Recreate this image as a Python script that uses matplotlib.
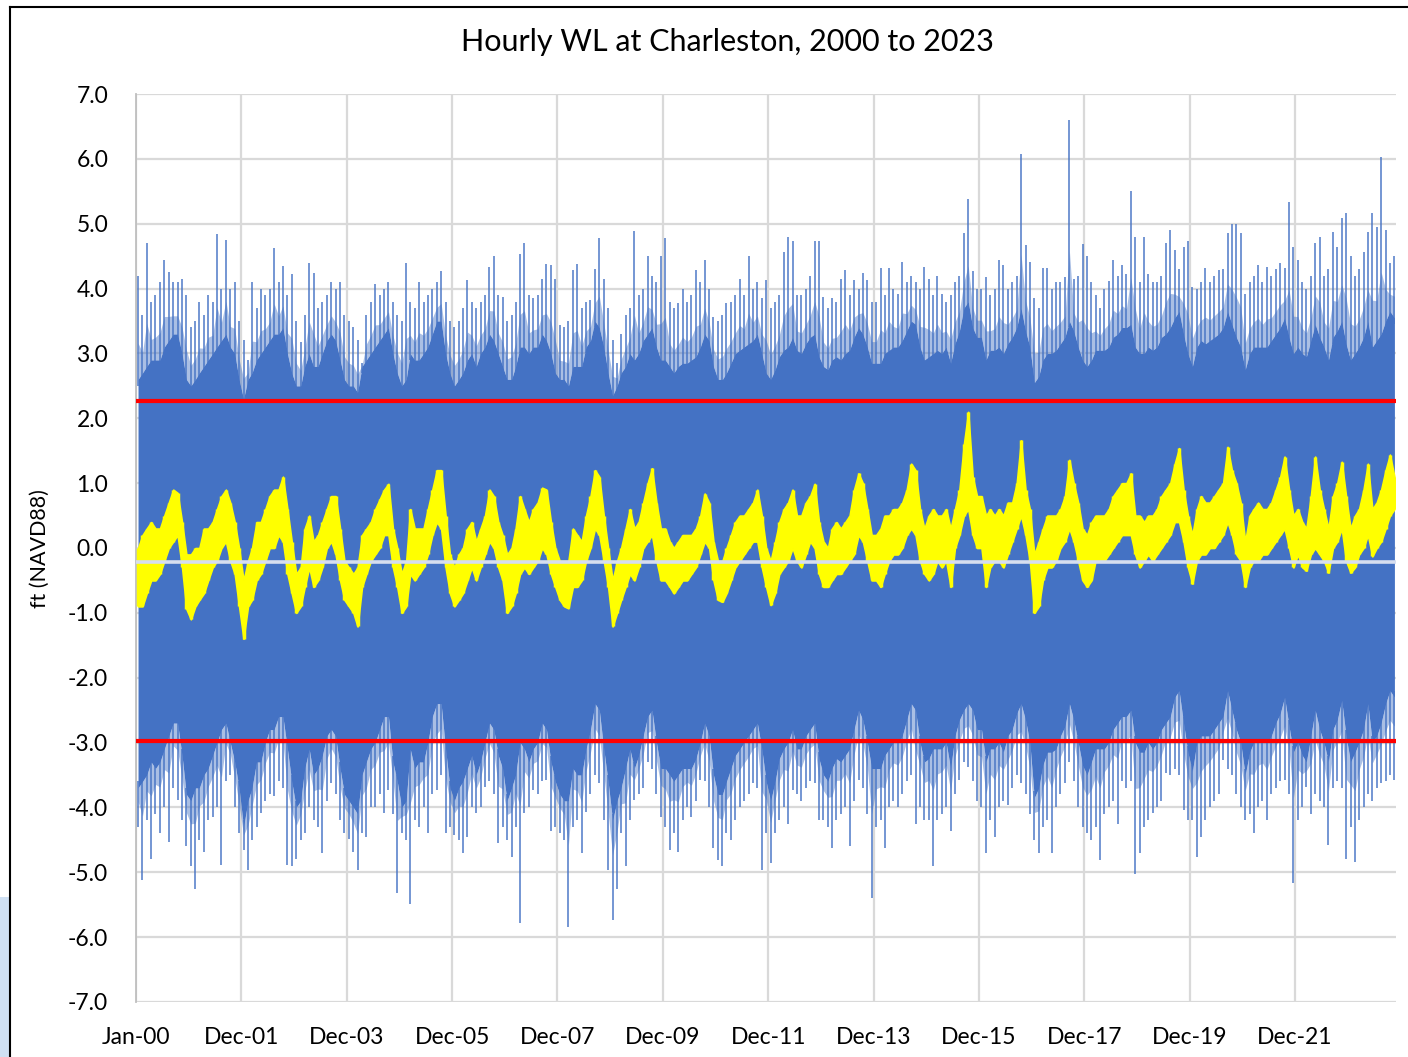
import numpy as np
import pandas as pd
import matplotlib
matplotlib.use("Agg")
import matplotlib.pyplot as plt
import matplotlib.dates as mdates
from matplotlib.lines import Line2D
from matplotlib.patches import Rectangle

# ---------------- data (monthly Jan-2000 .. Nov-2023) ----------------
start_month = "2000-01-01"
n_months = 287

# monthly highest hourly water level (ft NAVD88)
hi_max = [
    4.2, 3.6, 4.7, 3.8, 3.9, 4.1, 4.44, 4.26, 4.1, 4.1, 4.15, 3.9,
    3.4, 3.5, 3.8, 3.6, 3.9, 3.8, 4.84, 4.0, 4.75, 4.0, 4.1, 3.5,
    3.2, 2.9, 4.1, 3.7, 4.0, 3.9, 4.0, 4.63, 4.1, 4.35, 3.9, 4.23,
    3.5, 3.18, 3.6, 4.4, 4.24, 3.7, 3.8, 3.9, 4.1, 4.0, 4.1, 3.6,
    3.5, 3.4, 3.2, 2.85, 3.6, 3.8, 4.07, 3.9, 4.0, 4.1, 3.8, 3.6,
    3.5, 4.4, 3.8, 3.7, 4.1, 3.8, 3.9, 4.0, 4.1, 4.27, 3.8, 3.5,
    3.4, 3.5, 3.7, 4.13, 3.8, 3.7, 3.8, 3.9, 4.33, 4.5, 3.9, 3.87,
    3.5, 3.6, 3.8, 4.53, 4.7, 3.9, 3.85, 3.9, 4.14, 4.38, 4.37, 4.14,
    3.44, 3.4, 3.5, 4.28, 4.38, 3.7, 3.8, 3.82, 4.3, 4.78, 4.15, 3.7,
    3.2, 2.85, 3.3, 3.6, 3.7, 4.88, 3.9, 4.0, 4.5, 4.2, 4.1, 4.5,
    4.78, 3.8, 3.7, 3.77, 4.0, 3.8, 3.9, 4.29, 4.1, 4.44, 4.0, 3.56,
    3.5, 3.6, 3.78, 3.8, 3.9, 4.14, 3.9, 4.5, 4.0, 4.1, 3.85, 4.13,
    3.7, 3.8, 3.9, 4.56, 4.8, 4.74, 3.9, 3.9, 4.0, 4.2, 4.74, 4.73,
    3.87, 3.7, 3.85, 3.8, 4.15, 4.28, 3.9, 4.13, 4.0, 4.24, 4.13, 3.8,
    3.8, 4.32, 3.9, 4.32, 4.0, 3.92, 4.41, 4.1, 4.2, 4.1, 4.0, 4.34,
    4.15, 3.9, 4.2, 3.92, 3.8, 3.9, 4.1, 4.2, 4.86, 5.38, 4.27, 4.0,
    4.0, 4.18, 3.9, 4.0, 4.44, 4.36, 4.0, 4.1, 4.19, 6.07, 4.67, 4.41,
    3.85, 3.7, 4.31, 4.32, 4.0, 4.1, 4.1, 4.18, 6.6, 4.14, 4.2, 4.68,
    4.5, 4.1, 3.9, 3.7, 4.0, 4.11, 4.44, 4.2, 4.36, 4.23, 5.51, 4.8,
    4.1, 4.8, 4.23, 4.1, 4.1, 4.2, 4.7, 4.9, 4.59, 4.3, 4.64, 4.74,
    4.03, 4.0, 4.1, 4.32, 4.1, 4.2, 4.28, 4.3, 4.85, 5.0, 5.0, 4.86,
    3.92, 4.1, 4.2, 4.37, 4.1, 4.33, 4.2, 4.3, 4.4, 4.31, 5.33, 4.64,
    4.44, 4.1, 4.0, 4.19, 4.7, 4.8, 4.2, 4.3, 4.87, 4.64, 5.09, 5.17,
    4.5, 4.2, 4.3, 4.56, 4.87, 5.16, 4.95, 6.03, 4.9, 4.4, 4.5,
]

# monthly typical upper level of the dense tidal band
hi_body = [
    2.6, 2.7, 2.8, 2.9, 2.9, 2.9, 3.1, 3.2, 3.3, 3.3, 3.0, 2.6,
    2.5, 2.6, 2.7, 2.8, 2.9, 3.0, 3.1, 3.2, 3.3, 3.1, 3.0, 2.6,
    2.3, 2.6, 2.7, 2.9, 3.0, 3.1, 3.2, 3.3, 3.3, 3.4, 3.0, 2.7,
    2.5, 2.5, 2.8, 3.0, 2.8, 2.8, 3.0, 3.2, 3.3, 3.2, 2.9, 2.6,
    2.5, 2.5, 2.4, 2.8, 2.9, 3.0, 3.1, 3.2, 3.3, 3.4, 3.0, 2.7,
    2.5, 2.6, 3.0, 2.9, 2.9, 3.0, 3.1, 3.3, 3.5, 3.5, 3.0, 2.7,
    2.5, 2.6, 2.7, 2.9, 3.0, 2.8, 3.0, 3.1, 3.3, 3.2, 3.0, 2.8,
    2.6, 2.6, 2.8, 3.1, 3.1, 3.0, 3.1, 3.1, 3.3, 3.2, 3.0, 2.7,
    2.6, 2.6, 2.5, 2.8, 2.8, 2.8, 3.1, 3.2, 3.5, 3.4, 3.1, 2.7,
    2.35, 2.5, 2.7, 2.8, 3.0, 2.9, 3.0, 3.2, 3.3, 3.4, 3.1, 2.9,
    2.9, 2.8, 2.7, 2.8, 2.85, 2.85, 2.9, 2.95, 3.1, 3.3, 3.2, 2.8,
    2.6, 2.6, 2.7, 2.85, 3.0, 3.05, 3.1, 3.15, 3.2, 3.3, 3.0, 2.7,
    2.6, 2.75, 2.95, 3.05, 3.1, 3.25, 3.05, 3.0, 3.15, 3.25, 3.3, 2.95,
    2.8, 2.75, 2.9, 2.95, 2.9, 3.0, 3.05, 3.25, 3.4, 3.3, 3.1, 2.85,
    2.85, 2.85, 3.0, 3.05, 3.1, 3.1, 3.2, 3.35, 3.5, 3.45, 3.1, 2.9,
    2.95, 3.0, 3.05, 3.0, 3.1, 2.85, 3.15, 3.35, 3.7, 3.8, 3.4, 3.25,
    3.25, 2.9, 3.05, 3.05, 3.1, 3.0, 3.15, 3.25, 3.4, 3.7, 3.35, 3.1,
    2.55, 2.65, 2.9, 3.0, 3.0, 3.05, 3.15, 3.25, 3.5, 3.35, 3.1, 2.9,
    2.8, 2.9, 3.05, 3.05, 3.05, 3.1, 3.25, 3.3, 3.4, 3.4, 3.45, 3.1,
    3.0, 3.0, 3.1, 3.05, 3.1, 3.25, 3.3, 3.4, 3.55, 3.65, 3.3, 3.0,
    2.8, 3.1, 3.2, 3.15, 3.2, 3.25, 3.3, 3.4, 3.65, 3.45, 3.25, 3.1,
    2.75, 3.0, 3.1, 3.1, 3.1, 3.1, 3.2, 3.3, 3.4, 3.55, 3.25, 3.0,
    3.1, 3.0, 2.95, 3.2, 3.45, 3.25, 3.1, 2.9, 3.25, 3.35, 3.5, 3.15,
    2.9, 3.0, 3.1, 3.25, 3.5, 3.1, 3.2, 3.3, 3.5, 3.65, 3.55,
]

# monthly typical lower level of the dense tidal band
lo_body = [
    -3.7, -3.6, -3.5, -3.3, -3.4, -3.3, -3.1, -2.9, -2.7, -2.7, -3.2, -3.8,
    -3.9, -3.7, -3.7, -3.5, -3.4, -3.2, -3.0, -2.8, -2.7, -3.0, -3.3, -3.7,
    -4.3, -3.9, -3.7, -3.3, -3.3, -3.0, -2.8, -2.8, -2.6, -2.6, -3.1, -3.6,
    -4.0, -3.9, -3.4, -3.1, -3.5, -3.4, -3.2, -2.9, -2.8, -2.9, -3.4, -3.8,
    -3.9, -4.0, -4.1, -3.5, -3.3, -3.1, -3.0, -2.8, -2.6, -2.6, -3.3, -3.6,
    -4.0, -3.9, -3.1, -3.4, -3.3, -3.3, -3.0, -2.6, -2.4, -2.4, -3.1, -3.7,
    -3.9, -3.7, -3.6, -3.4, -3.2, -3.5, -3.3, -3.0, -2.7, -2.8, -3.2, -3.4,
    -3.9, -3.7, -3.5, -3.0, -3.1, -3.3, -3.1, -3.0, -2.7, -2.8, -3.3, -3.6,
    -3.8, -3.9, -3.9, -3.4, -3.5, -3.5, -3.1, -2.8, -2.4, -2.5, -3.1, -3.6,
    -4.2, -3.9, -3.7, -3.4, -3.1, -3.4, -3.2, -2.9, -2.6, -2.5, -3.0, -3.4,
    -3.4, -3.5, -3.6, -3.5, -3.4, -3.4, -3.4, -3.25, -3.0, -2.7, -2.9, -3.5,
    -3.8, -3.8, -3.6, -3.4, -3.2, -3.1, -3.0, -2.9, -2.8, -2.7, -3.1, -3.6,
    -3.9, -3.6, -3.25, -3.1, -3.0, -2.8, -3.1, -3.1, -2.9, -2.8, -2.7, -3.25,
    -3.5, -3.6, -3.4, -3.25, -3.3, -3.2, -3.1, -2.8, -2.5, -2.65, -3.0, -3.4,
    -3.4, -3.4, -3.2, -3.1, -3.0, -3.0, -2.9, -2.65, -2.4, -2.5, -3.0, -3.3,
    -3.25, -3.1, -3.1, -3.1, -3.0, -3.4, -2.9, -2.65, -2.5, -2.4, -2.5, -2.8,
    -2.8, -3.3, -3.1, -3.1, -3.0, -3.15, -2.9, -2.8, -2.55, -2.4, -2.65, -3.0,
    -3.85, -3.7, -3.35, -3.15, -3.15, -3.1, -2.9, -2.75, -2.4, -2.65, -3.0, -3.35,
    -3.5, -3.3, -3.1, -3.1, -3.1, -3.0, -2.8, -2.7, -2.6, -2.6, -2.5, -3.0,
    -3.15, -3.15, -3.0, -3.1, -3.0, -2.8, -2.7, -2.6, -2.3, -2.2, -2.7, -3.15,
    -3.45, -3.0, -2.9, -2.9, -2.9, -2.8, -2.7, -2.6, -2.2, -2.5, -2.8, -3.0,
    -3.5, -3.15, -3.0, -3.0, -3.0, -3.0, -2.9, -2.7, -2.55, -2.3, -2.75, -3.15,
    -3.0, -3.2, -3.3, -2.9, -2.5, -2.8, -3.0, -3.3, -2.8, -2.65, -2.35, -2.9,
    -3.3, -3.15, -3.0, -2.8, -2.4, -3.0, -2.9, -2.7, -2.4, -2.2, -2.3,
]

# monthly lowest hourly water level
lo_min = [
    -4.3, -5.12, -4.2, -4.79, -4.1, -4.4, -4.0, -4.53, -3.7, -3.89, -4.2, -4.6,
    -4.91, -5.25, -4.5, -4.68, -4.2, -4.14, -4.0, -4.89, -3.6, -3.5, -4.0, -4.4,
    -4.66, -4.97, -4.5, -4.3, -4.09, -3.9, -3.8, -3.83, -3.6, -3.7, -4.89, -4.91,
    -4.79, -4.5, -4.4, -4.0, -4.2, -4.3, -4.71, -3.9, -3.63, -3.8, -4.2, -4.4,
    -4.48, -4.68, -4.97, -4.4, -4.45, -4.0, -3.99, -3.8, -4.09, -3.73, -4.1, -5.32,
    -4.4, -4.5, -5.49, -4.2, -4.3, -4.0, -4.4, -3.8, -3.73, -3.5, -4.4, -4.3,
    -4.43, -4.5, -4.71, -4.45, -4.0, -4.09, -4.0, -3.68, -3.6, -3.8, -4.55, -4.3,
    -4.5, -4.76, -4.3, -5.78, -4.09, -4.0, -3.73, -3.8, -3.6, -3.58, -4.37, -4.3,
    -4.4, -4.5, -5.85, -4.3, -4.2, -4.71, -4.07, -3.8, -3.5, -3.63, -4.2, -4.97,
    -5.73, -5.25, -4.4, -4.91, -4.2, -3.89, -3.8, -3.7, -3.3, -3.4, -3.8, -4.14,
    -4.3, -4.66, -4.4, -4.68, -4.2, -4.0, -4.14, -3.9, -3.58, -3.6, -4.0, -4.63,
    -4.81, -4.91, -4.4, -4.5, -4.2, -4.0, -3.9, -3.8, -3.63, -3.7, -4.97, -4.4,
    -4.86, -4.4, -4.2, -4.0, -4.25, -3.73, -3.8, -3.9, -3.7, -3.6, -3.63, -4.2,
    -4.19, -4.3, -4.63, -4.2, -4.1, -4.0, -4.6, -3.9, -3.58, -3.7, -4.1, -5.4,
    -4.3, -4.2, -4.63, -4.0, -3.9, -3.99, -3.8, -3.6, -3.5, -4.25, -4.0, -4.2,
    -4.2, -4.91, -4.2, -4.1, -4.0, -4.37, -3.8, -3.58, -3.3, -3.37, -3.6, -3.9,
    -4.0, -4.71, -4.2, -4.45, -4.0, -3.9, -3.96, -3.7, -3.5, -3.63, -3.8, -4.1,
    -4.5, -4.71, -4.3, -4.2, -4.71, -4.0, -3.8, -3.63, -3.3, -3.6, -4.0, -4.3,
    -4.4, -4.5, -4.3, -4.81, -4.1, -4.0, -3.9, -4.25, -3.6, -3.7, -3.6, -5.02,
    -4.71, -4.3, -4.2, -4.09, -4.0, -3.9, -3.47, -3.5, -3.4, -3.5, -4.04, -4.2,
    -4.19, -4.76, -4.45, -4.2, -4.0, -3.9, -3.8, -3.27, -3.4, -3.5, -3.8, -3.99,
    -4.2, -4.1, -4.4, -4.0, -3.9, -4.19, -3.8, -3.7, -3.6, -3.58, -3.8, -5.17,
    -4.2, -4.0, -3.68, -4.1, -3.8, -3.9, -4.0, -4.58, -3.7, -3.6, -3.7, -4.79,
    -4.3, -4.84, -4.2, -4.0, -3.8, -3.9, -3.7, -3.63, -3.6, -3.5, -3.58,
]

# yellow series: monthly low / high of the daily mean water level
mean_lo = [
    -0.9, -0.9, -0.7, -0.5, -0.5, -0.4, -0.2, 0.0, 0.1, 0.2, -0.3, -0.94,
    -1.1, -0.9, -0.8, -0.7, -0.5, -0.3, -0.2, 0.0, 0.1, -0.2, -0.4, -0.9,
    -1.4, -0.9, -0.8, -0.5, -0.4, -0.2, 0.0, 0.0, 0.2, 0.1, -0.4, -0.7,
    -1.0, -0.9, -0.6, -0.3, -0.6, -0.5, -0.3, 0.0, 0.1, -0.1, -0.5, -0.8,
    -0.9, -1.0, -1.21, -0.6, -0.4, -0.2, -0.1, 0.0, 0.2, 0.2, -0.3, -0.6,
    -1.0, -0.9, -0.4, -0.5, -0.4, -0.3, -0.1, 0.2, 0.4, 0.3, -0.3, -0.7,
    -0.9, -0.8, -0.7, -0.5, -0.3, -0.5, -0.3, -0.1, 0.1, 0.0, -0.3, -0.5,
    -1.0, -0.9, -0.7, -0.4, -0.3, -0.4, -0.3, -0.2, 0.0, -0.1, -0.4, -0.6,
    -0.8, -0.9, -0.93, -0.6, -0.6, -0.5, -0.2, 0.0, 0.3, 0.2, -0.2, -0.6,
    -1.21, -1.0, -0.8, -0.6, -0.4, -0.5, -0.3, 0.0, 0.1, 0.2, -0.2, -0.5,
    -0.5, -0.6, -0.7, -0.6, -0.5, -0.5, -0.4, -0.3, -0.1, 0.1, 0.0, -0.5,
    -0.8, -0.83, -0.7, -0.5, -0.3, -0.2, -0.1, 0.0, 0.1, 0.1, -0.3, -0.6,
    -0.88, -0.7, -0.4, -0.3, -0.2, 0.0, -0.2, -0.3, -0.1, 0.1, 0.0, -0.4,
    -0.6, -0.6, -0.5, -0.4, -0.4, -0.3, -0.2, -0.1, 0.2, 0.1, -0.2, -0.5,
    -0.5, -0.6, -0.4, -0.2, -0.1, -0.1, 0.0, 0.2, 0.3, 0.2, -0.2, -0.4,
    -0.5, -0.4, -0.2, -0.3, -0.2, -0.6, 0.0, 0.2, 0.5, 0.6, 0.2, 0.0,
    0.0, -0.6, -0.3, -0.2, -0.2, -0.3, -0.1, 0.1, 0.3, 0.5, 0.2, -0.2,
    -1.0, -0.9, -0.5, -0.3, -0.3, -0.2, 0.0, 0.1, 0.3, 0.1, -0.2, -0.5,
    -0.6, -0.5, -0.2, -0.2, -0.2, -0.1, 0.0, 0.1, 0.2, 0.2, 0.2, -0.1,
    -0.3, -0.2, -0.1, -0.2, -0.1, 0.0, 0.1, 0.2, 0.4, 0.4, 0.1, -0.3,
    -0.55, -0.2, -0.1, -0.1, 0.0, 0.0, 0.1, 0.2, 0.4, 0.2, -0.1, -0.2,
    -0.6, -0.3, -0.2, -0.2, -0.1, -0.1, 0.0, 0.1, 0.2, 0.3, 0.0, -0.3,
    -0.1, -0.3, -0.35, -0.1, 0.0, -0.1, -0.2, -0.38, 0.0, 0.1, 0.3, -0.2,
    -0.38, -0.3, -0.1, 0.0, 0.2, -0.13, 0.0, 0.1, 0.3, 0.5, 0.6,
]
mean_hi = [
    0.0, 0.2, 0.3, 0.4, 0.3, 0.3, 0.5, 0.7, 0.9, 0.85, 0.4, -0.1,
    -0.1, 0.0, 0.0, 0.3, 0.3, 0.4, 0.6, 0.8, 0.9, 0.7, 0.4, 0.0,
    -0.5, -0.2, 0.0, 0.4, 0.4, 0.6, 0.8, 0.9, 0.9, 1.1, 0.6, 0.1,
    -0.4, -0.3, 0.3, 0.5, 0.1, 0.2, 0.4, 0.6, 0.8, 0.8, 0.3, -0.2,
    -0.3, -0.4, -0.3, 0.2, 0.3, 0.4, 0.6, 0.75, 0.9, 0.99, 0.3, 0.0,
    -0.4, -0.2, 0.6, 0.3, 0.3, 0.3, 0.6, 0.9, 1.2, 1.2, 0.5, -0.1,
    -0.3, -0.1, 0.0, 0.3, 0.4, 0.1, 0.3, 0.5, 0.9, 0.8, 0.4, 0.2,
    -0.1, 0.0, 0.3, 0.8, 0.6, 0.4, 0.6, 0.7, 0.93, 0.9, 0.4, 0.0,
    -0.2, -0.2, -0.2, 0.3, 0.2, 0.1, 0.5, 0.8, 1.2, 1.1, 0.5, 0.0,
    -0.5, -0.2, 0.0, 0.3, 0.6, 0.3, 0.4, 0.7, 1.0, 1.23, 0.7, 0.3,
    0.3, 0.1, 0.0, 0.1, 0.2, 0.2, 0.2, 0.3, 0.5, 0.84, 0.7, 0.1,
    -0.2, -0.2, 0.0, 0.2, 0.4, 0.5, 0.5, 0.6, 0.7, 0.9, 0.5, 0.0,
    -0.2, 0.1, 0.4, 0.6, 0.7, 0.9, 0.5, 0.5, 0.7, 0.8, 0.99, 0.4,
    0.1, 0.0, 0.3, 0.4, 0.3, 0.4, 0.5, 0.9, 1.15, 1.0, 0.6, 0.2,
    0.2, 0.3, 0.5, 0.5, 0.6, 0.6, 0.7, 0.9, 1.3, 1.2, 0.6, 0.3,
    0.5, 0.6, 0.5, 0.5, 0.6, 0.3, 0.6, 0.9, 1.6, 2.1, 1.1, 0.8,
    0.8, 0.5, 0.6, 0.5, 0.6, 0.5, 0.7, 0.7, 1.0, 1.66, 0.9, 0.6,
    -0.1, 0.1, 0.3, 0.5, 0.5, 0.5, 0.6, 0.8, 1.36, 1.0, 0.7, 0.3,
    0.2, 0.4, 0.5, 0.5, 0.5, 0.6, 0.8, 0.9, 1.0, 1.0, 1.15, 0.5,
    0.5, 0.4, 0.5, 0.5, 0.6, 0.8, 0.9, 1.0, 1.3, 1.54, 0.9, 0.5,
    0.2, 0.6, 0.8, 0.7, 0.7, 0.8, 0.9, 1.0, 1.56, 1.2, 1.0, 0.7,
    0.1, 0.5, 0.6, 0.7, 0.6, 0.6, 0.7, 0.9, 1.1, 1.41, 0.9, 0.5,
    0.6, 0.4, 0.3, 0.8, 1.41, 0.9, 0.6, 0.3, 0.8, 1.0, 1.33, 0.8,
    0.3, 0.5, 0.6, 0.9, 1.3, 0.6, 0.7, 0.9, 1.2, 1.44, 1.1,
]

upper_threshold = 2.27
lower_threshold = -2.97
reference_level = -0.22

tick_labels = ["Jan-00", "Dec-01", "Dec-03", "Dec-05", "Dec-07", "Dec-09",
               "Dec-11", "Dec-13", "Dec-15", "Dec-17", "Dec-19", "Dec-21"]
tick_step_days = 730
y_ticks = [-7, -6, -5, -4, -3, -2, -1, 0, 1, 2, 3, 4, 5, 6, 7]

title = "Hourly WL at Charleston, 2000 to 2023"
ylabel = "ft (NAVD88)"

# ---------------- figure ----------------
W, H = 1408, 1057
fig = plt.figure(figsize=(W / 100, H / 100), dpi=100)
fig.patch.set_facecolor("white")
plt.rcParams["font.family"] = ["Lato", "DejaVu Sans"]

L, R, T, B = 136, 1396, 94, 1002
ax = fig.add_axes([L / W, 1 - B / H, (R - L) / W, (B - T) / H])

t0 = pd.Timestamp(start_month)
months = pd.date_range(start_month, periods=n_months, freq="MS") + pd.Timedelta(days=14)
x = mdates.date2num(months.to_pydatetime())

BLUE = "#4472C4"
hb = np.array(hi_body)
lb = np.array(lo_body)
hm = np.array(hi_max)
lm = np.array(lo_min)

# dense tidal band
ax.fill_between(x, lb, hb, color=BLUE, lw=0, zorder=2)
# thinning fringe just outside the dense band
ax.fill_between(x, hb, hb + 0.35 * (hm - hb), color=BLUE, alpha=0.45, lw=0, zorder=2)
ax.fill_between(x, lb - 0.35 * (lb - lm), lb, color=BLUE, alpha=0.45, lw=0, zorder=2)
# monthly extremes as spikes
ax.vlines(x, hb - 0.1, hm, color=BLUE, lw=1.3, alpha=0.8, zorder=2)
ax.vlines(x, lm, lb + 0.1, color=BLUE, lw=1.3, alpha=0.8, zorder=2)

# daily-mean band (yellow)
ax.fill_between(x, mean_lo, mean_hi, color="#FFFF00", lw=1.2, edgecolor="#FFFF00", zorder=4)
ax.vlines(x, mean_lo, mean_hi, color="#FFFF00", lw=2.5, zorder=4)

ax.axhline(reference_level, color="#D6DEEF", lw=2.6, zorder=5)
ax.axhline(upper_threshold, color="#FF0000", lw=3.0, zorder=6)
ax.axhline(lower_threshold, color="#FF0000", lw=3.0, zorder=6)

# axes
xmin = mdates.date2num(t0)
xmax = mdates.date2num(t0 + pd.Timedelta(days=8730))
ax.set_xlim(xmin, xmax)
ax.set_ylim(-7, 7)
tick_pos = [mdates.date2num(t0 + pd.Timedelta(days=tick_step_days * k))
            for k in range(len(tick_labels))]
ax.set_xticks(tick_pos)
ax.set_xticklabels(tick_labels)
ax.set_yticks(y_ticks)
ax.set_yticklabels([f"{v:.1f}" for v in y_ticks])
ax.tick_params(axis="both", length=0, labelsize=16.5, colors="#000000")
ax.tick_params(axis="y", pad=20)
ax.tick_params(axis="x", pad=18)
ax.grid(True, color="#D9D9D9", lw=1.6, zorder=0)
ax.set_axisbelow(True)
for s in ["top", "right", "bottom"]:
    ax.spines[s].set_visible(False)
ax.spines["left"].set_color("#BFBFBF")
ax.spines["left"].set_linewidth(1.3)

fig.text(727 / W, 1 - 42 / H, title, ha="center", va="center", fontsize=22)
fig.text(40 / W, 1 - 549 / H, ylabel, ha="center", va="center", rotation=90, fontsize=15.5)

# screenshot frame
fig.add_artist(Line2D([10 / W, 1], [1 - 7 / H, 1 - 7 / H], transform=fig.transFigure,
                      color="black", lw=1.5))
fig.add_artist(Line2D([10 / W, 10 / W], [0, 1 - 7 / H], transform=fig.transFigure,
                      color="black", lw=1.5))
fig.add_artist(Rectangle((0, 0), 9 / W, 160 / H, transform=fig.transFigure,
                         color="#CFE0F3", lw=0))

fig.savefig("out.png", dpi=100)
